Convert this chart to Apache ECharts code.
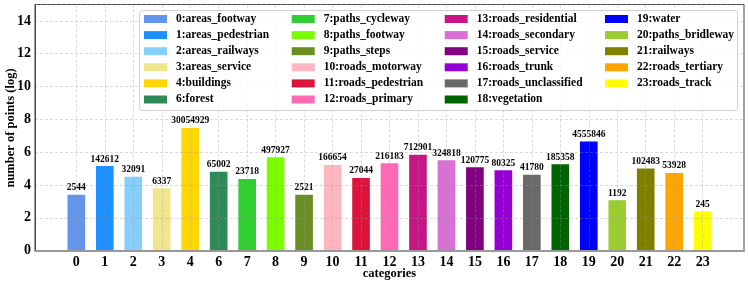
<!DOCTYPE html>
<html>
<head>
<meta charset="utf-8">
<script src="https://cdn.jsdelivr.net/npm/echarts@6/dist/echarts.min.js"></script>
<style>html,body{margin:0;padding:0;background:#fff}#c{width:748px;height:285px}</style>
</head>
<body>
<div id="c"></div>
<script>
const categories = ['0','1','2','3','4','6','7','8','9','10','11','12','13','14','15','16','17','18','19','20','21','22','23'];
const classNames = ['0:areas_footway','1:areas_pedestrian','2:areas_railways','3:areas_service','4:buildings','6:forest',
  '7:paths_cycleway','8:paths_footway','9:paths_steps','10:roads_motorway','11:roads_pedestrian','12:roads_primary',
  '13:roads_residential','14:roads_secondary','15:roads_service','16:roads_trunk','17:roads_unclassified','18:vegetation',
  '19:water','20:paths_bridleway','21:railways','22:roads_tertiary','23:roads_track'];
const pointCounts = [2544,142612,32091,6337,30054929,65002,23718,497927,2521,166654,27044,216183,
  712901,324818,120775,80325,41780,185358,4555846,1192,102483,53928,245];
const palette = ['#6495ED','#1E90FF','#87CEFA','#F0E68C','#FFD700','#2E8B57','#32CD32','#7CFC00','#6B8E23','#FFB6C1',
  '#DC143C','#FF69B4','#C71585','#DA70D6','#800080','#9400D3','#696969','#006400','#0000FF','#9ACD32','#808000','#FFA500','#FFFF00'];
const yTicks = [0,2,4,6,8,10,12,14];
const yTitle = 'number of points (log)';
const xTitle = 'categories';

const FONT = '"Liberation Serif","Times New Roman",serif';
const chart = echarts.init(document.getElementById('c'), null, {renderer:'canvas'});

const series = classNames.map((name, i) => ({
  name: name,
  type: 'bar',
  xAxisIndex: 1, yAxisIndex: 1,
  stack: 'all',
  barWidth: '62%',
  itemStyle: {color: palette[i]},
  label: {
    show: true, position: 'top', distance: 2,
    fontFamily: FONT, fontWeight: 'bold', fontSize: 9.5, color: '#000',
    formatter: () => String(pointCounts[i])
  },
  data: categories.map((c, j) => j === i ? Math.log10(pointCounts[i]) : '-')
}));

const cols = [classNames.slice(0,6), classNames.slice(6,12), classNames.slice(12,18), classNames.slice(18)];
const colLeft = [144, 291.7, 444.7, 605];
const legends = cols.map((d, k) => ({
  data: d, orient: 'vertical', left: colLeft[k], top: 11, padding: 0, itemGap: 0.1,
  itemWidth: 23, itemHeight: 8, icon: 'rect', selectedMode: false, z: 6,
  textStyle: {fontFamily: FONT, fontWeight: 'bold', fontSize: 11.5, color: '#000', lineHeight: 16, padding: [0,0,0,4]}
}));

const gridLine = {show: true, lineStyle: {color: 'rgba(150,150,150,0.45)', type: [3,2], width: 0.8}};
const GT = 4.5, GB = 34.3;

chart.setOption({
  animation: false,
  backgroundColor: '#fff',
  grid: [
    {left: 35, right: 4, top: GT, bottom: GB, outerBoundsMode: 'none', containLabel: false,
     show: true, borderColor: '#444', borderWidth: 1, backgroundColor: 'transparent'},
    {left: 62.1, right: 31.1, top: GT, bottom: GB, outerBoundsMode: 'none', containLabel: false},
    {left: 76.34, right: 45.32, top: GT, bottom: GB, outerBoundsMode: 'none', containLabel: false}
  ],
  xAxis: [
    {type: 'value', gridIndex: 0, min: 0, max: 1, z: 3,
     axisLabel: {show: false}, axisTick: {show: false}, splitLine: {show: false},
     axisLine: {show: true, lineStyle: {color: '#999', width: 2}}},
    {type: 'category', gridIndex: 1, data: categories, z: 3,
     axisLine: {show: false}, axisTick: {show: false},
     axisLabel: {interval: 0, margin: 5, fontFamily: FONT, fontWeight: 'bold', fontSize: 14, color: '#000'},
     splitLine: {show: false}},
    {type: 'category', gridIndex: 2, data: categories, boundaryGap: false, z: 3,
     axisLine: {show: false}, axisTick: {show: false}, axisLabel: {show: false},
     splitLine: Object.assign({interval: 0}, gridLine)}
  ],
  yAxis: [
    {type: 'value', gridIndex: 0, min: 0, max: 15, interval: 2, z: 3,
     axisLine: {show: true, lineStyle: {color: '#444', width: 1}}, axisTick: {show: false},
     axisLabel: {showMaxLabel: false, margin: 4, fontFamily: FONT, fontWeight: 'bold', fontSize: 14, color: '#000',
       formatter: v => yTicks.includes(v) ? String(v) : ''},
     splitLine: gridLine},
    {type: 'value', gridIndex: 1, min: 0, max: 15, show: false, splitLine: {show: false}},
    {type: 'value', gridIndex: 2, min: 0, max: 15, show: false, splitLine: {show: false}}
  ],
  legend: legends,
  graphic: [
    {type: 'rect', left: 139, top: 10, z: 5,
     shape: {width: 598, height: 100, r: 3},
     style: {fill: 'rgba(255,255,255,0.8)', stroke: '#d0d0d0', lineWidth: 1}},
    {type: 'text', x: 11, y: 128, rotation: Math.PI / 2, z: 6,
     style: {text: yTitle, font: 'bold 12.5px ' + FONT, fill: '#000', align: 'center', verticalAlign: 'middle'}},
    {type: 'text', x: 389.5, y: 274, z: 6,
     style: {text: xTitle, font: 'bold 12.5px ' + FONT, fill: '#000', align: 'center', verticalAlign: 'middle'}}
  ],
  series: series
});
</script>
</body>
</html>
